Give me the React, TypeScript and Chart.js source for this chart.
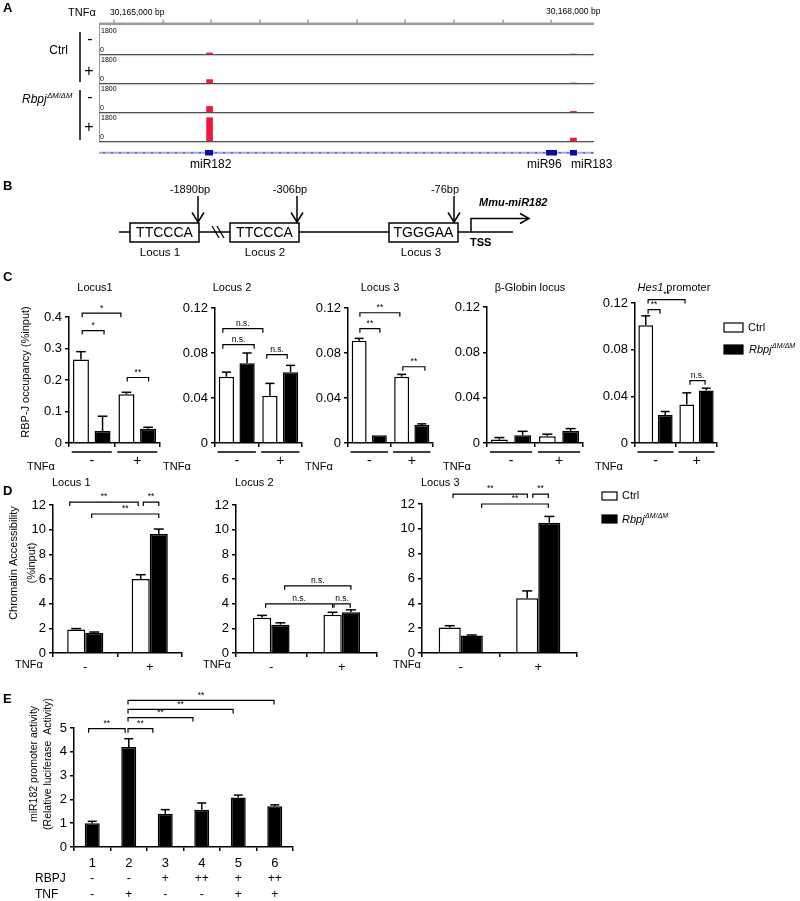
import React, { useEffect, useRef } from 'react';
import { Chart, registerables } from 'chart.js';

Chart.register(...registerables);
const FONT = '"Liberation Sans", Arial, Helvetica, sans-serif';
Chart.defaults.font.family = FONT;
Chart.defaults.color = '#000';

// ================= DATA =================
// Panel A (genome browser tracks)
const genomeRange = [30164897, 30168295];
const rulerTicks = [30165000, 30165333, 30165667, 30166000, 30166333, 30166667, 30167000, 30167333, 30167667, 30168000];
const rulerLabels = ['30,165,000 bp', '30,168,000 bp'];
const peakPositions = [30165656, 30168154];
const trackCtrlMinus = [70, 0];
const trackCtrlPlus = [220, 0];
const trackRbpjMinus = [360, 40];
const trackRbpjPlus = [1500, 190];
const trackMax = 1800;
const geneNames = ['miR182', 'miR96', 'miR183'];
const geneStarts = [30165625, 30167966, 30168130];
const geneEnds = [30165680, 30168041, 30168178];

// Panel B (promoter diagram)
const motifSeqs = ['TTCCCA', 'TTCCCA', 'TGGGAA'];
const locusNames = ['Locus 1', 'Locus 2', 'Locus 3'];
const motifOffsets = ['-1890bp', '-306bp', '-76bp'];

// Shared
const seriesNames = ['Ctrl', 'Rbpj'];
const tnfGroups = ['-', '+'];

// Panel C (RBP-J occupancy, %input)
const cLocus1Ctrl = [0.265, 0.155];
const cLocus1CtrlErr = [0.025, 0.006];
const cLocus1Rbpj = [0.038, 0.045];
const cLocus1RbpjErr = [0.047, 0.005];
const cLocus2Ctrl = [0.059, 0.042];
const cLocus2CtrlErr = [0.004, 0.011];
const cLocus2Rbpj = [0.071, 0.063];
const cLocus2RbpjErr = [0.009, 0.006];
const cLocus3Ctrl = [0.091, 0.059];
const cLocus3CtrlErr = [0.002, 0.002];
const cLocus3Rbpj = [0.007, 0.016];
const cLocus3RbpjErr = [0, 0.001];
const cGlobinCtrl = [0.003, 0.006];
const cGlobinCtrlErr = [0.0018, 0.0018];
const cGlobinRbpj = [0.0068, 0.0106];
const cGlobinRbpjErr = [0.0035, 0.0021];
const cHes1Ctrl = [0.101, 0.033];
const cHes1CtrlErr = [0.008, 0.01];
const cHes1Rbpj = [0.024, 0.045];
const cHes1RbpjErr = [0.003, 0.002];

// Panel D (chromatin accessibility, %input)
const dLocus1Ctrl = [1.9, 6.0];
const dLocus1CtrlErr = [0.08, 0.35];
const dLocus1Rbpj = [1.65, 9.65];
const dLocus1RbpjErr = [0.05, 0.4];
const dLocus2Ctrl = [2.85, 3.1];
const dLocus2CtrlErr = [0.2, 0.2];
const dLocus2Rbpj = [2.3, 3.3];
const dLocus2RbpjErr = [0.15, 0.2];
const dLocus3Ctrl = [2.05, 4.4];
const dLocus3CtrlErr = [0.15, 0.6];
const dLocus3Rbpj = [1.4, 10.5];
const dLocus3RbpjErr = [0.05, 0.5];

// Panel E (miR182 promoter luciferase activity)
const eConditions = ['1', '2', '3', '4', '5', '6'];
const eRbpj = ['-', '-', '+', '++', '+', '++'];
const eTnf = ['-', '+', '-', '-', '+', '+'];
const eActivity = [1.0, 4.2, 1.4, 1.57, 2.08, 1.71];
const eActivityErr = [0.08, 0.35, 0.17, 0.28, 0.1, 0.06];

// ================= DRAW HELPERS =================
type Ctx = CanvasRenderingContext2D;
const ML = 80, MT = 60, MR = 30, MB = 62;

function txt(ctx: Ctx, s: string, x: number, y: number, size: number, align: any = 'left', weight = 'normal', style = 'normal') {
  ctx.save();
  ctx.font = `${style} ${weight} ${size}px ${FONT}`;
  ctx.textAlign = align;
  ctx.textBaseline = 'middle';
  ctx.fillStyle = '#000';
  ctx.fillText(s, x, y);
  ctx.restore();
}
function vtxt(ctx: Ctx, s: string, x: number, y: number, size: number) {
  ctx.save();
  ctx.translate(x, y);
  ctx.rotate(-Math.PI / 2);
  ctx.font = `${size}px ${FONT}`;
  ctx.textAlign = 'center';
  ctx.textBaseline = 'middle';
  ctx.fillStyle = '#000';
  ctx.fillText(s, 0, 0);
  ctx.restore();
}
function line(ctx: Ctx, pts: number[][], w = 1.5, color = '#000') {
  ctx.save();
  ctx.strokeStyle = color;
  ctx.lineWidth = w;
  ctx.beginPath();
  pts.forEach((p, i) => (i ? ctx.lineTo(p[0], p[1]) : ctx.moveTo(p[0], p[1])));
  ctx.stroke();
  ctx.restore();
}
function rbpj(ctx: Ctx, x: number, y: number, size: number) {
  ctx.save();
  ctx.fillStyle = '#000';
  ctx.textAlign = 'left';
  ctx.textBaseline = 'middle';
  ctx.font = `italic ${size}px ${FONT}`;
  ctx.fillText(seriesNames[1], x, y);
  const w = ctx.measureText(seriesNames[1]).width;
  ctx.font = `italic ${size * 0.64}px ${FONT}`;
  ctx.fillText('ΔM/ΔM', x + w + 0.5, y - size * 0.36);
  ctx.restore();
}
function legendBox(ctx: Ctx, x: number, y: number, w: number, h: number, fill: string) {
  ctx.save();
  ctx.fillStyle = fill;
  ctx.fillRect(x, y, w, h);
  ctx.strokeStyle = '#000';
  ctx.lineWidth = 1.2;
  ctx.strokeRect(x, y, w, h);
  ctx.restore();
}

// ================= BASE LAYER (panels A, B, legends) =================
const trackBaselines = [54, 83, 112, 141];
const trackData = [trackCtrlMinus, trackCtrlPlus, trackRbpjMinus, trackRbpjPlus];

const basePlugin = {
  id: 'base',
  afterDraw(chart: any) {
    const ctx: Ctx = chart.ctx;
    const X = (g: number) => chart.scales.x.getPixelForValue(g);
    [['A', 8], ['B', 186], ['C', 277], ['D', 491], ['E', 699]].forEach(([s, y]: any) => txt(ctx, s, 3, y, 13, 'left', 'bold'));

    // ---- Panel A
    txt(ctx, 'TNFα', 68, 12.5, 11);
    txt(ctx, rulerLabels[0], 110, 12.5, 8.5);
    txt(ctx, rulerLabels[1], 546, 11.5, 8.5);
    const x0 = X(genomeRange[0]);
    const x1 = X(genomeRange[1]);
    ctx.fillStyle = '#9c9c9c';
    ctx.fillRect(x0, 22.5, x1 - x0, 2.6);
    ctx.fillStyle = '#8a8a8a';
    rulerTicks.forEach((t) => ctx.fillRect(Math.round(X(t)) - 0.5, 19.5, 1.2, 3.5));
    line(ctx, [[x0 + 0.5, 25], [x0 + 0.5, 141.5]], 1, '#9a9a9a');
    trackBaselines.forEach((b) => {
      line(ctx, [[x0, b + 0.6], [x1, b + 0.6]], 1.3, '#505050');
      line(ctx, [[x0, b + 1.7], [x1, b + 1.7]], 0.8, '#c8c8c8');
      txt(ctx, String(trackMax), 101, b - 23, 7);
      txt(ctx, '0', 100, b - 3.5, 7);
    });
    txt(ctx, seriesNames[0], 68, 51, 12, 'right');
    rbpj(ctx, 22, 100, 12);
    line(ctx, [[80, 32], [80, 82]], 1.5);
    line(ctx, [[80, 90], [80, 140]], 1.5);
    txt(ctx, '-', 90, 40, 16, 'center');
    txt(ctx, '+', 89, 72, 16, 'center');
    txt(ctx, '-', 90, 98, 16, 'center');
    txt(ctx, '+', 89, 128, 16, 'center');
    // gene track
    line(ctx, [[x0, 152.7], [x1, 152.7]], 2, '#a3a3f2');
    ctx.fillStyle = '#5c5cd6';
    for (let x = x0 + 4; x < x1 - 2; x += 8) ctx.fillRect(x, 152, 2, 1.5);
    ctx.fillStyle = '#0a0aa5';
    geneStarts.forEach((s, i) => {
      const a = X(s), b = X(geneEnds[i]);
      ctx.fillRect(a, 150, b - a, 5.5);
    });
    const geneLabelX = [190, 527, 571];
    geneNames.forEach((n, i) => txt(ctx, n, geneLabelX[i], 165, 12));

    // ---- Panel B
    line(ctx, [[119, 232], [513, 232]], 1.5);
    line(ctx, [[212, 226], [219, 238]], 1.3);
    line(ctx, [[217, 226], [224, 238]], 1.3);
    const boxX = [130, 230, 389];
    const locusLabelX = [160, 265, 421];
    boxX.forEach((x, i) => {
      ctx.fillStyle = '#fff';
      ctx.fillRect(x, 223, 69, 19);
      ctx.strokeStyle = '#000';
      ctx.lineWidth = 1.5;
      ctx.strokeRect(x, 223, 69, 19);
      txt(ctx, motifSeqs[i], x + 34.5, 233, 14, 'center');
      txt(ctx, locusNames[i], locusLabelX[i], 253, 11.5, 'center');
    });
    const arrowX = [198, 297, 454];
    const arrowLabelX = [190, 290, 445];
    arrowX.forEach((x, i) => {
      line(ctx, [[x, 196], [x, 222]], 1.5);
      line(ctx, [[x - 6, 212.5], [x, 222], [x + 6, 212.5]], 1.5);
      txt(ctx, motifOffsets[i], arrowLabelX[i], 190, 11, 'center');
    });
    line(ctx, [[471, 232], [471, 218.5], [529, 218.5]], 1.5);
    line(ctx, [[520, 213.5], [529, 218.5], [520, 223.5]], 1.5);
    txt(ctx, 'Mmu-miR182', 479, 203, 11, 'left', 'bold', 'italic');
    txt(ctx, 'TSS', 470, 243, 11, 'left', 'bold');

    // ---- Legends
    legendBox(ctx, 724, 323, 19, 9, '#fff');
    txt(ctx, seriesNames[0], 748, 327.5, 11);
    legendBox(ctx, 724, 345, 19, 9, '#000');
    rbpj(ctx, 749, 349.5, 11);
    legendBox(ctx, 602, 492, 15, 8, '#fff');
    txt(ctx, seriesNames[0], 622, 496, 11);
    legendBox(ctx, 602, 515, 15, 8, '#000');
    rbpj(ctx, 622, 519.5, 11);
  },
};

function baseConfig(): any {
  return {
    type: 'scatter',
    data: { datasets: [{ data: [] }] },
    options: {
      animation: false,
      responsive: false,
      events: [],
      layout: { padding: { left: 99, right: 206, top: 0, bottom: 0 } },
      plugins: { legend: { display: false }, tooltip: { enabled: false } },
      scales: {
        x: { type: 'linear', min: genomeRange[0], max: genomeRange[1], display: false, offset: false },
        y: { display: false, min: 0, max: 1 },
      },
    },
    plugins: [basePlugin],
  };
}

function trackConfig(vals: number[]): any {
  return {
    type: 'bar',
    data: {
      datasets: [
        {
          data: peakPositions.map((p, i) => ({ x: p, y: vals[i] })),
          backgroundColor: '#f0183c',
          borderWidth: 0,
          barThickness: 6,
        },
      ],
    },
    options: {
      animation: false,
      responsive: false,
      events: [],
      layout: { padding: 0 },
      plugins: { legend: { display: false }, tooltip: { enabled: false } },
      scales: {
        x: { type: 'linear', min: genomeRange[0], max: genomeRange[1], display: false, offset: false },
        y: { min: 0, max: trackMax, display: false },
      },
    },
  };
}

// ================= BAR CHARTS (C, D, E) =================
interface Series { values: number[]; errors: number[]; fill: string }
interface BarSpec {
  area: number[];
  yMax: number;
  yStep: number;
  cats: string[];
  series: Series[];
  catPct: number;
  barPct: number;
  brackets: [number, number, number, string][];
  decorate: (ctx: Ctx, xs: any, P: (x: number) => number, Q: (y: number) => number) => void;
}

const two = (cv: number[], ce: number[], rv: number[], re: number[]): Series[] => [
  { values: cv, errors: ce, fill: '#ffffff' },
  { values: rv, errors: re, fill: '#000000' },
];

function cDecor(title: string, titleX: number, tnfX: number, yTitle = false, italicHead = false) {
  return (ctx: Ctx, xs: any, P: any, Q: any) => {
    if (italicHead) {
      const parts = title.split(' ');
      ctx.save();
      ctx.font = `italic 11px ${FONT}`;
      const w1 = ctx.measureText(parts[0]).width;
      ctx.font = `11px ${FONT}`;
      const w2 = ctx.measureText(' ' + parts[1]).width;
      ctx.restore();
      const sx = P(titleX) - (w1 + w2) / 2;
      txt(ctx, parts[0], sx, Q(288), 11, 'left', 'normal', 'italic');
      txt(ctx, ' ' + parts[1], sx + w1, Q(288), 11);
    } else {
      txt(ctx, title, P(titleX), Q(288), 11, 'center');
    }
    tnfGroups.forEach((g, i) => {
      line(ctx, [[xs.getPixelForValue(i - 0.44), Q(452)], [xs.getPixelForValue(i + 0.44), Q(452)]], 1.3);
      txt(ctx, g, xs.getPixelForValue(i), Q(461), 14, 'center');
    });
    txt(ctx, 'TNFα', P(tnfX), Q(467), 11);
    if (yTitle) vtxt(ctx, 'RBP-J occupancy (%input)', P(26), Q(372), 11);
  };
}

function dDecor(title: string, tnfX: number, yTitle = false) {
  return (ctx: Ctx, xs: any, P: any, Q: any) => {
    txt(ctx, title, xs.left - 1, Q(483), 11);
    tnfGroups.forEach((g, i) => txt(ctx, g, xs.getPixelForValue(i), Q(667), 13, 'center'));
    txt(ctx, 'TNFα', P(tnfX), Q(665), 11);
    if (yTitle) {
      vtxt(ctx, 'Chromatin Accessibility', P(14), Q(563), 11);
      vtxt(ctx, '(%input)', P(32), Q(563), 11);
    }
  };
}

function eDecor(ctx: Ctx, xs: any, P: any, Q: any) {
  eConditions.forEach((c, i) => {
    const cx = xs.getPixelForValue(i);
    txt(ctx, c, cx, Q(863), 13, 'center');
    txt(ctx, eRbpj[i], cx, Q(879), 12, 'center');
    txt(ctx, eTnf[i], cx, Q(895), 12, 'center');
  });
  txt(ctx, 'RBPJ', P(35), Q(879), 12);
  txt(ctx, 'TNF', P(35), Q(895), 12);
  vtxt(ctx, 'miR182 promoter activity', P(34), Q(764), 10.5);
  vtxt(ctx, '(Relative luciferase  Activity)', P(48), Q(764), 10.5);
}

const barSpecs: BarSpec[] = [
  {
    area: [69, 317, 160, 443], yMax: 0.4, yStep: 0.1, cats: tnfGroups,
    series: two(cLocus1Ctrl, cLocus1CtrlErr, cLocus1Rbpj, cLocus1RbpjErr), catPct: 0.95, barPct: 0.74,
    brackets: [[-0.21, 0.64, 0.412, '*'], [-0.21, 0.27, 0.357, '*'], [0.78, 1.25, 0.208, '**']],
    decorate: cDecor('Locus1', 95, 27, true),
  },
  {
    area: [215, 308, 302, 443], yMax: 0.12, yStep: 0.04, cats: tnfGroups,
    series: two(cLocus2Ctrl, cLocus2CtrlErr, cLocus2Rbpj, cLocus2RbpjErr), catPct: 0.95, barPct: 0.74,
    brackets: [[-0.32, 0.6, 0.1016, 'n.s.'], [-0.32, 0.4, 0.0874, 'n.s.'], [0.69, 1.16, 0.0785, 'n.s.']],
    decorate: cDecor('Locus 2', 232, 163),
  },
  {
    area: [348, 308, 433, 443], yMax: 0.12, yStep: 0.04, cats: tnfGroups,
    series: two(cLocus3Ctrl, cLocus3CtrlErr, cLocus3Rbpj, cLocus3RbpjErr), catPct: 0.95, barPct: 0.74,
    brackets: [[-0.22, 0.72, 0.1158, '**'], [-0.22, 0.25, 0.1016, '**'], [0.79, 1.31, 0.0678, '**']],
    decorate: cDecor('Locus 3', 380, 305),
  },
  {
    area: [487, 307, 583, 443], yMax: 0.12, yStep: 0.04, cats: tnfGroups,
    series: two(cGlobinCtrl, cGlobinCtrlErr, cGlobinRbpj, cGlobinRbpjErr), catPct: 0.97, barPct: 0.72,
    brackets: [],
    decorate: cDecor('β-Globin locus', 530, 443),
  },
  {
    area: [635, 303, 717, 443], yMax: 0.12, yStep: 0.04, cats: tnfGroups,
    series: two(cHes1Ctrl, cHes1CtrlErr, cHes1Rbpj, cHes1RbpjErr), catPct: 0.95, barPct: 0.76,
    brackets: [[-0.18, 0.72, 0.1229, '**'], [-0.18, 0.11, 0.1143, '**'], [0.84, 1.21, 0.0534, 'n.s.']],
    decorate: cDecor('Hes1 promoter', 674, 595, false, true),
  },
  {
    area: [53, 505, 182, 653], yMax: 12, yStep: 2, cats: tnfGroups,
    series: two(dLocus1Ctrl, dLocus1CtrlErr, dLocus1Rbpj, dLocus1RbpjErr), catPct: 0.56, barPct: 1.0,
    brackets: [[-0.24, 0.82, 12.24, '**'], [0.9, 1.14, 12.24, '**'], [0.1, 1.14, 11.27, '**']],
    decorate: dDecor('Locus 1', 15, true),
  },
  {
    area: [236, 505, 377, 653], yMax: 12, yStep: 2, cats: tnfGroups,
    series: two(dLocus2Ctrl, dLocus2CtrlErr, dLocus2Rbpj, dLocus2RbpjErr), catPct: 0.52, barPct: 1.0,
    brackets: [[0.19, 1.13, 5.45, 'n.s.'], [-0.08, 0.87, 3.99, 'n.s.'], [0.89, 1.12, 3.99, 'n.s.']],
    decorate: dDecor('Locus 2', 203),
  },
  {
    area: [422, 504, 577, 653], yMax: 12, yStep: 2, cats: tnfGroups,
    series: two(dLocus3Ctrl, dLocus3CtrlErr, dLocus3Rbpj, dLocus3RbpjErr), catPct: 0.57, barPct: 1.0,
    brackets: [[-0.1, 0.86, 12.8, '**'], [0.93, 1.13, 12.8, '**'], [0.27, 1.13, 12.0, '**']],
    decorate: dDecor('Locus 3', 393),
  },
  {
    area: [74, 728, 293, 847], yMax: 5, yStep: 1, cats: eConditions,
    series: [{ values: eActivity, errors: eActivityErr, fill: '#000000' }], catPct: 1.0, barPct: 0.41,
    brackets: [[-0.1, 0.9, 4.97, '**'], [0.98, 1.66, 4.97, '**'], [0.98, 2.76, 5.44, '**'], [0.98, 3.86, 5.78, '**'], [0.98, 4.98, 6.16, '**']],
    decorate: eDecor,
  },
];

function barConfig(spec: BarSpec): any {
  const [l, t] = spec.area;
  const ox = l - ML, oy = t - MT;
  const P = (x: number) => x - ox;
  const Q = (y: number) => y - oy;
  const overlay = {
    id: 'overlay',
    afterDraw(chart: any) {
      const ctx: Ctx = chart.ctx;
      const xs = chart.scales.x, ys = chart.scales.y;
      // error bars
      spec.series.forEach((s, di) => {
        const meta = chart.getDatasetMeta(di);
        meta.data.forEach((bar: any, j: number) => {
          const e = s.errors[j];
          if (!e) return;
          const top = ys.getPixelForValue(s.values[j] + e);
          const cw = Math.min(5, bar.width * 0.3);
          line(ctx, [[bar.x, bar.y], [bar.x, top]], 1.5);
          line(ctx, [[bar.x - cw, top], [bar.x + cw, top]], 1.5);
        });
      });
      // significance brackets
      spec.brackets.forEach(([a, b, v, lab]) => {
        const xa = xs.getPixelForValue(a), xb = xs.getPixelForValue(b), y = ys.getPixelForValue(v);
        line(ctx, [[xa, y + 4], [xa, y], [xb, y], [xb, y + 4]], 1.2);
        txt(ctx, lab, (xa + xb) / 2, y - 5, 8.5, 'center');
      });
      spec.decorate(ctx, xs, P, Q);
    },
  };
  return {
    type: 'bar',
    data: {
      labels: spec.cats,
      datasets: spec.series.map((s, i) => ({
        label: seriesNames[i] || 'value',
        data: s.values,
        backgroundColor: s.fill,
        borderColor: '#000',
        borderWidth: 1.5,
        categoryPercentage: spec.catPct,
        barPercentage: spec.barPct,
      })),
    },
    options: {
      animation: false,
      responsive: false,
      events: [],
      layout: { padding: { top: MT, right: MR, left: 0, bottom: 0 } },
      plugins: { legend: { display: false }, tooltip: { enabled: false }, title: { display: false } },
      scales: {
        x: {
          type: 'category',
          offset: true,
          grid: { offset: true, drawOnChartArea: false, drawTicks: true, tickLength: 4, color: '#000', lineWidth: 1.5 },
          border: { display: true, color: '#000', width: 1.5 },
          ticks: { display: false },
          afterFit: (s: any) => { s.height = MB; },
        },
        y: {
          min: 0,
          max: spec.yMax,
          ticks: {
            stepSize: spec.yStep,
            color: '#000',
            padding: 3,
            font: { size: 13, family: FONT },
            callback: (v: number) => String(Math.round(v * 1000) / 1000),
          },
          grid: { drawOnChartArea: false, drawTicks: true, tickLength: 4, color: '#000', lineWidth: 1.5 },
          border: { display: true, color: '#000', width: 1.5 },
          afterFit: (s: any) => { s.width = ML; },
        },
      },
    },
    plugins: [overlay],
  };
}

// ================= COMPONENTS =================
function ChartCanvas({ left, top, width, height, make }: any) {
  const ref = useRef<HTMLCanvasElement>(null);
  useEffect(() => {
    const chart = new Chart(ref.current as HTMLCanvasElement, make());
    return () => chart.destroy();
  }, []);
  return (
    <canvas
      ref={ref}
      width={width}
      height={height}
      style={{ position: 'absolute', left, top, width, height, display: 'block' }}
    />
  );
}

export default function App() {
  return (
    <div style={{ position: 'absolute', left: 0, top: 0, width: 800, height: 901, overflow: 'hidden', background: '#fff' }}>
      <ChartCanvas left={0} top={0} width={800} height={901} make={baseConfig} />
      {trackBaselines.map((b, i) => (
        <ChartCanvas key={'t' + i} left={99} top={b - 28} width={495} height={28} make={() => trackConfig(trackData[i])} />
      ))}
      {barSpecs.map((s, i) => {
        const [l, t, r, b] = s.area;
        return (
          <ChartCanvas
            key={'b' + i}
            left={l - ML}
            top={t - MT}
            width={r - l + ML + MR}
            height={b - t + MT + MB}
            make={() => barConfig(s)}
          />
        );
      })}
    </div>
  );
}
